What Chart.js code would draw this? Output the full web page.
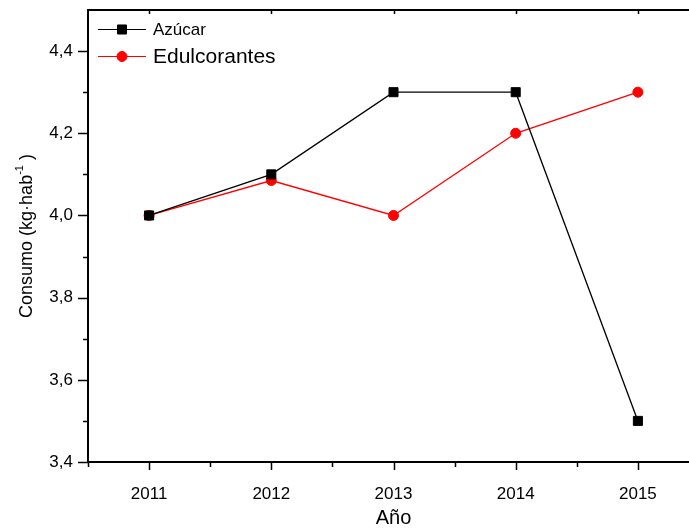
<!DOCTYPE html>
<html>
<head>
<meta charset="utf-8">
<script src="https://cdn.jsdelivr.net/npm/chart.js@4.4.1/dist/chart.umd.min.js"></script>
<style>
html, body { margin: 0; padding: 0; background: #fff; }
#wrap { width: 689px; height: 530px; overflow: hidden; }
canvas { display: block; }
</style>
</head>
<body>
<div id="wrap"><canvas id="consumoChart" width="711" height="530"></canvas></div>
<script>
// --- Data ---
const years = [2011, 2012, 2013, 2014, 2015];
const azucar = [4.0, 4.1, 4.3, 4.3, 3.5];
const edulcorantes = [4.0, 4.085, 4.0, 4.2, 4.3];
const yTicks = [3.4, 3.6, 3.8, 4.0, 4.2, 4.4];
const yMinorTicks = [3.5, 3.7, 3.9, 4.1, 4.3];
const xMinorTicks = [2010.5, 2011.5, 2012.5, 2013.5, 2014.5, 2015.5];
const seriesNames = ['Azúcar', 'Edulcorantes'];

const fontFamily = '"Liberation Sans", Arial, sans-serif';

// --- Axes frame, ticks, titles and legend drawn on top of the chart ---
const frameAndLegend = {
    id: 'frameAndLegend',
    afterDraw(chart) {
        const ctx = chart.ctx;
        const a = chart.chartArea;
        const x = chart.scales.x;
        const y = chart.scales.y;
        ctx.save();
        ctx.strokeStyle = '#000';

        // frame
        ctx.lineWidth = 2;
        ctx.beginPath();
        ctx.moveTo(a.left, a.top); ctx.lineTo(a.right, a.top);
        ctx.moveTo(a.left, a.bottom); ctx.lineTo(a.right, a.bottom);
        ctx.moveTo(a.left, a.top - 1); ctx.lineTo(a.left, a.bottom + 1);
        ctx.moveTo(a.right, a.top - 1); ctx.lineTo(a.right, a.bottom + 1);
        ctx.stroke();

        ctx.lineWidth = 1.5;
        ctx.beginPath();
        // bottom axis: major and minor ticks pointing out
        years.forEach(v => {
            const px = Math.round(x.getPixelForValue(v)) + 0.5;
            ctx.moveTo(px, a.bottom); ctx.lineTo(px, a.bottom + 8);
            // top axis: short ticks pointing in
            ctx.moveTo(px, a.top); ctx.lineTo(px, a.top + 4);
        });
        xMinorTicks.forEach(v => {
            const px = Math.round(x.getPixelForValue(v)) + 0.5;
            ctx.moveTo(px, a.bottom); ctx.lineTo(px, a.bottom + 5);
        });
        // left axis
        yTicks.forEach(v => {
            const py = Math.round(y.getPixelForValue(v)) + 0.5;
            ctx.moveTo(a.left, py); ctx.lineTo(a.left - 10, py);
        });
        yMinorTicks.forEach(v => {
            const py = Math.round(y.getPixelForValue(v)) + 0.5;
            ctx.moveTo(a.left, py); ctx.lineTo(a.left - 5, py);
        });
        ctx.stroke();

        // x axis title
        ctx.fillStyle = '#000';
        ctx.textAlign = 'center';
        ctx.textBaseline = 'middle';
        ctx.font = '20px ' + fontFamily;
        ctx.fillText('Año', (a.left + a.right) / 2, 518);

        // y axis title with superscript
        const mainFont = '18px ' + fontFamily;
        const supFont = '11px ' + fontFamily;
        const part1 = 'Consumo (kg·hab';
        const sup = '-1';
        const part2 = ' )';
        ctx.font = mainFont;
        const w1 = ctx.measureText(part1).width;
        const w3 = ctx.measureText(part2).width;
        ctx.font = supFont;
        const w2 = ctx.measureText(sup).width;
        const total = w1 + w2 + w3;
        ctx.save();
        ctx.translate(27, (a.top + a.bottom) / 2);
        ctx.rotate(-Math.PI / 2);
        ctx.textAlign = 'left';
        let cx = -total / 2;
        ctx.font = mainFont;
        ctx.fillText(part1, cx, 0);
        cx += w1;
        ctx.font = supFont;
        ctx.fillText(sup, cx, -7);
        cx += w2;
        ctx.font = mainFont;
        ctx.fillText(part2, cx, 0);
        ctx.restore();

        // legend
        const legendRows = [
            { y: 29, size: 17 },
            { y: 56, size: 21 }
        ];
        chart.data.datasets.forEach((ds, i) => {
            const row = legendRows[i];
            ctx.strokeStyle = ds.borderColor;
            ctx.lineWidth = 1;
            ctx.beginPath();
            ctx.moveTo(98, row.y + 0.5);
            ctx.lineTo(146, row.y + 0.5);
            ctx.stroke();
            ctx.fillStyle = ds.backgroundColor;
            ctx.strokeStyle = ds.borderColor;
            Chart.helpers.drawPoint(ctx, {
                pointStyle: ds.pointStyle,
                radius: ds.pointRadius,
                borderWidth: ds.pointBorderWidth,
                rotation: 0
            }, 122, row.y + 0.5);
            ctx.fillStyle = '#000';
            ctx.font = row.size + 'px ' + fontFamily;
            ctx.textAlign = 'left';
            ctx.textBaseline = 'middle';
            ctx.fillText(seriesNames[i], 153, row.y + 1);
        });
        ctx.restore();
    }
};

const canvas = document.getElementById('consumoChart');
const chart = new Chart(canvas.getContext('2d'), {
    type: 'line',
    data: {
        datasets: [
            {
                label: seriesNames[0],
                data: years.map((yr, i) => ({ x: yr, y: azucar[i] })),
                borderColor: '#000000',
                backgroundColor: '#000000',
                borderWidth: 1.3,
                tension: 0,
                pointStyle: 'rect',
                pointRadius: 6.4,
                pointBorderWidth: 1,
                pointBackgroundColor: '#000000',
                pointBorderColor: '#000000'
            },
            {
                label: seriesNames[1],
                data: years.map((yr, i) => ({ x: yr, y: edulcorantes[i] })),
                borderColor: '#ff0000',
                backgroundColor: '#ff0000',
                borderWidth: 1.3,
                tension: 0,
                pointStyle: 'circle',
                pointRadius: 5,
                pointBorderWidth: 1,
                pointBackgroundColor: '#ff0000',
                pointBorderColor: '#ff0000'
            }
        ]
    },
    options: {
        responsive: false,
        maintainAspectRatio: false,
        animation: false,
        layout: { padding: { left: 0, top: 10, right: 12, bottom: 0 } },
        plugins: {
            legend: { display: false },
            tooltip: { enabled: false }
        },
        scales: {
            x: {
                type: 'linear',
                min: 2010.5,
                max: 2015.5,
                afterBuildTicks: s => { s.ticks = years.map(v => ({ value: v })); },
                afterFit: s => {
                    s.height = 68;
                    s.paddingLeft = 0;
                    s.paddingRight = 0;
                },
                grid: { display: false },
                border: { display: false },
                ticks: {
                    autoSkip: false,
                    maxRotation: 0,
                    padding: 14,
                    color: '#000',
                    font: { family: fontFamily, size: 17 },
                    callback: v => String(v)
                }
            },
            y: {
                type: 'linear',
                min: 3.4,
                max: 4.5,
                afterBuildTicks: s => { s.ticks = yTicks.map(v => ({ value: v })); },
                afterFit: s => {
                    s.width = 88;
                    s.paddingTop = 0;
                    s.paddingBottom = 0;
                },
                grid: { display: false },
                border: { display: false },
                ticks: {
                    padding: 7,
                    color: '#000',
                    font: { family: fontFamily, size: 17 },
                    callback: v => v.toFixed(1).replace('.', ',')
                }
            }
        }
    },
    plugins: [frameAndLegend]
});
</script>
</body>
</html>
